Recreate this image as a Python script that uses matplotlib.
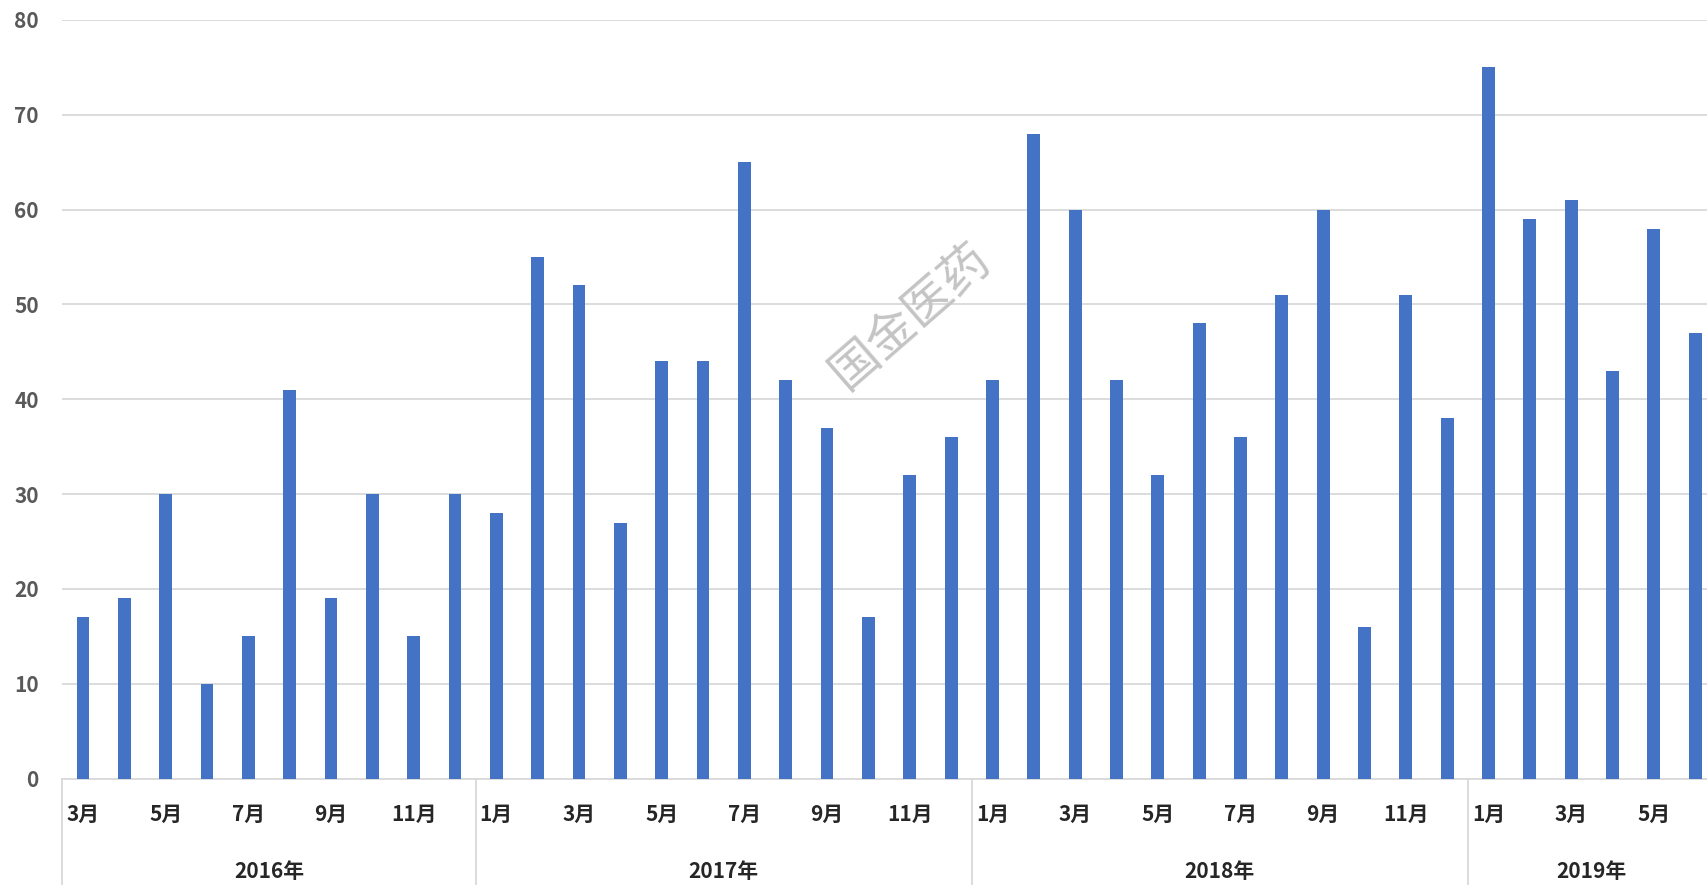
import matplotlib
matplotlib.use("Agg")
import matplotlib.pyplot as plt
import numpy as np

plt.rcParams['font.family'] = ['Noto Sans CJK SC', 'DejaVu Sans']

# Monthly counts, March 2016 through June 2019
years = ["2016年", "2017年", "2018年", "2019年"]
year_months = [
    [3, 4, 5, 6, 7, 8, 9, 10, 11, 12],
    list(range(1, 13)),
    list(range(1, 13)),
    [1, 2, 3, 4, 5, 6],
]
values_2016 = [17, 19, 30, 10, 15, 41, 19, 30, 15, 30]
values_2017 = [28, 55, 52, 27, 44, 44, 65, 42, 37, 17, 32, 36]
values_2018 = [42, 68, 60, 42, 32, 48, 36, 51, 60, 16, 51, 38]
values_2019 = [75, 59, 61, 43, 58, 47]
y_ticks = [0, 10, 20, 30, 40, 50, 60, 70, 80]

values = values_2016 + values_2017 + values_2018 + values_2019
months = [m for ms in year_months for m in ms]
x = np.arange(len(values))

W, H = 1707, 885
fig = plt.figure(figsize=(W / 100, H / 100), dpi=100)
ax = fig.add_axes([62.3 / W, 1 - 778.5 / H, 1 - 62.3 / W, (778.5 - 20) / H])

ax.bar(x, values, width=0.31, color="#4472C4", zorder=3)

ax.set_ylim(0, 80)
ax.set_xlim(-0.5, -0.5 + (W - 62.3) / 41.34)
ax.set_yticks(y_ticks)
ax.set_yticklabels([str(t) for t in y_ticks], fontsize=15, fontweight="bold",
                   color="#595959")
ax.tick_params(axis="y", length=0, pad=17)
ax.set_xticks([])
ax.yaxis.grid(True, color="#d9d9d9", linewidth=1.3, zorder=0)
for s in ["top", "right", "left"]:
    ax.spines[s].set_visible(False)
ax.spines["bottom"].set_color("#d9d9d9")
ax.spines["bottom"].set_linewidth(1.3)

trans = ax.get_xaxis_transform()
axes_h = 778.5 - 20
month_y = -(814 - 778.5) / axes_h
year_y = -(871 - 778.5) / axes_h
bottom_y = -(H - 778.5) / axes_h

# month labels on every other bar
for i, m in enumerate(months):
    if i % 2 == 0:
        ax.text(i, month_y, f"{m}月", transform=trans, ha="center", va="center",
                fontsize=15, fontweight="bold", color="#262626", clip_on=False)

# year groups with separators
start = 0
for yname, ms in zip(years, year_months):
    left = start - 0.5
    right = start + len(ms) - 0.5
    ax.plot([left, left], [0, bottom_y], transform=trans, color="#d9d9d9",
            linewidth=1.3, clip_on=False)
    ax.text((left + right) / 2, year_y, yname, transform=trans, ha="center",
            va="center", fontsize=15, fontweight="bold", color="#262626",
            clip_on=False)
    start += len(ms)

# watermark
fig.text(911 / W, 1 - 316 / H, "国金医药", rotation=41, ha="center", va="center",
         fontsize=35, fontweight="light", color="#c4c4c4", zorder=10)

fig.savefig("out.png", dpi=100)
